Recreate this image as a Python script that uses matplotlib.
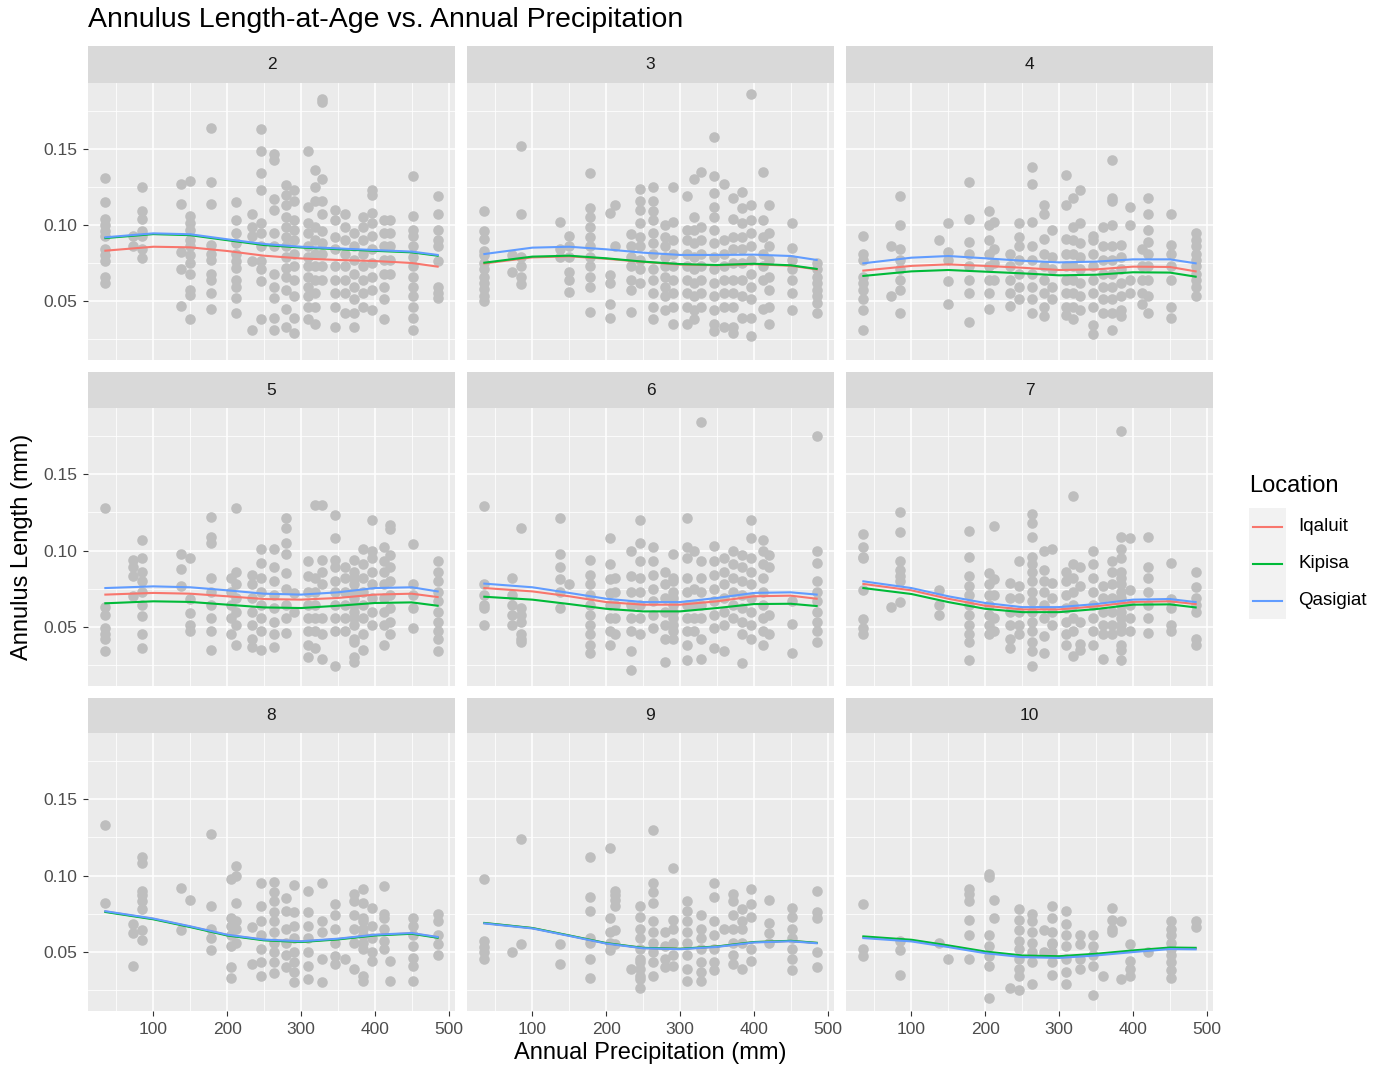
import numpy as np
import matplotlib
matplotlib.use('Agg')
import matplotlib.pyplot as plt
from matplotlib.patches import Rectangle

plt.rcParams['font.family'] = ['Liberation Sans', 'DejaVu Sans']

# precipitation columns (mm) shared by all panels
precip = [34, 72, 84, 137, 150, 178, 205, 212, 234, 246, 263, 279, 291,
          310, 319, 328, 346, 359, 372, 384, 396, 412, 421, 451, 486]

# annulus length (mm x 1000) per precipitation column, one list per age
age2 = [[131, 115, 104, 100, 96, 93, 84, 80, 76, 66, 62], [93, 86], [125, 109, 104, 96, 93, 84, 78],
        [127, 114, 82, 71, 47], [129, 106, 101, 97, 90, 86, 80, 75, 68, 57, 54, 38],
        [164, 128, 114, 87, 81, 77, 68, 64, 55, 45], [],
        [115, 103, 95, 88, 81, 76, 72, 64, 59, 52, 42], [107, 99, 93, 76, 31],
        [163, 149, 134, 123, 101, 95, 86, 76, 71, 63, 38], [147, 143, 117, 110, 95, 86, 68, 59, 52, 39, 31],
        [126, 120, 113, 105, 99, 92, 86, 79, 72, 66, 57, 45, 33], [123, 116, 103, 97, 90, 81, 73, 64, 53, 39, 29],
        [149, 112, 101, 95, 86, 79, 73, 66, 59, 53, 46, 38], [136, 125, 116, 99, 90, 81, 73, 64, 55, 46, 35],
        [183, 181, 130, 116, 107, 96, 88, 81, 73, 64], [110, 103, 92, 84, 73, 64, 55, 46, 33],
        [107, 99, 90, 81, 73, 64, 55, 42], [95, 86, 77, 68, 59, 51, 42, 33], [105, 99, 90, 81, 73, 64, 55, 46],
        [123, 120, 108, 101, 93, 84, 75, 66, 57, 44], [103, 95, 86, 77, 68, 59, 51, 38], [103, 95, 86, 77, 68],
        [132, 106, 97, 93, 86, 79, 73, 66, 59, 53, 46, 39, 31], [119, 107, 97, 90, 86, 76, 59, 55, 52]]
age3 = [[109, 96, 91, 83, 80, 75, 71, 66, 62, 58, 53, 50], [80, 69], [152, 107, 79, 73, 66, 61], [102, 84, 79],
        [93, 86, 79, 69, 64, 56], [134, 111, 105, 99, 92, 86, 79, 73, 66, 59, 43], [108, 67, 62, 48, 39],
        [113, 86], [94, 86, 79, 73, 64, 57, 43], [124, 116, 110, 101, 92, 86, 77, 71, 62],
        [125, 116, 109, 103, 95, 88, 81, 71, 64, 55, 46, 38], [100, 92, 86, 79, 73, 66, 59, 53, 44],
        [125, 102, 90, 81, 73, 64, 55, 46, 35], [119, 97, 90, 81, 73, 64, 55, 46, 35],
        [130, 105, 97, 88, 79, 71, 62, 53, 44, 38], [135, 99, 90, 81, 73, 64, 55, 46],
        [158, 132, 121, 112, 105, 97, 88, 79, 71, 62, 53, 44, 35, 30], [127, 90, 81, 73, 64, 55, 46, 33],
        [118, 104, 92, 84, 75, 64, 55, 46, 33, 29], [122, 111, 101, 92, 84, 75, 64, 53, 39],
        [186, 113, 103, 95, 86, 77, 68, 59, 51, 39, 27], [135, 103, 92, 81, 73, 64, 45],
        [113, 95, 86, 77, 66, 57, 46, 35], [101, 85, 77, 71, 64, 55, 44], [75, 71, 66, 62, 57, 53, 49, 42]]
age4 = [[93, 81, 77, 66, 62, 57, 51, 44, 31], [86, 53], [119, 100, 84, 77, 71, 64, 57, 42], [90],
        [101, 82, 77, 63, 48], [128, 104, 89, 81, 73, 64, 55, 36], [109, 100, 90, 81, 73, 64, 55, 45],
        [102, 84, 75, 64], [81, 73, 64, 55, 47], [101, 92, 86, 77, 68, 59, 51],
        [138, 127, 102, 86, 77, 68, 59, 51, 42], [113, 107, 91, 81, 73, 64, 55, 46, 40], [97, 79, 71, 59, 51],
        [133, 113, 91, 81, 73, 64, 55, 46, 41], [118, 99, 90, 81, 73, 64, 55, 46, 38],
        [123, 101, 88, 79, 71, 62, 53, 44], [93, 90, 81, 73, 64, 55, 46, 34, 28], [99, 86, 77, 68, 59, 51, 42],
        [143, 118, 116, 100, 86, 77, 68, 59, 51, 42, 31], [87, 79, 71, 62, 53, 44, 40], [112, 100, 64, 55],
        [84, 73, 64, 55, 48], [118, 107, 97, 89, 81, 73, 64, 53, 42], [107, 87, 81, 73, 64, 46, 39],
        [95, 90, 86, 81, 77, 73, 68, 64, 59, 53]]
age5 = [[128, 63, 58, 49, 45, 42, 34], [94, 89, 83, 70], [107, 95, 86, 80, 73, 64, 57, 45, 36], [98, 88, 77],
        [95, 68, 59, 51, 47], [122, 109, 105, 82, 73, 64, 56, 47, 35], [82, 73, 64, 56, 45],
        [128, 86, 78, 69, 60, 51, 38], [84, 78, 69, 60, 51, 42, 37], [101, 92, 82, 73, 64, 56, 47, 35],
        [101, 89, 80, 71, 62, 53, 45, 37], [121, 115, 105, 98, 85, 75, 64, 56, 46], [72, 60],
        [93, 83, 73, 64, 56, 47, 38, 30], [130, 82, 73, 64, 56, 47, 36], [130, 94, 86, 78, 56, 45, 29],
        [123, 108, 94, 89, 80, 73, 64, 56, 47, 24], [89, 82, 73, 64, 56, 47],
        [94, 86, 82, 78, 73, 69, 64, 60, 56, 51, 42, 40, 30, 27], [101, 91, 82, 73, 64, 56, 45, 35],
        [120, 100, 95, 86, 78, 69, 60, 51], [102, 93, 86, 78, 69, 60, 51, 38],
        [117, 114, 97, 89, 80, 71, 62, 53, 45], [104, 78, 71, 62, 49], [93, 86, 80, 73, 67, 60, 53, 47, 42, 34]]
age6 = [[129, 78, 71, 64, 62, 51], [82, 71, 64, 58, 51], [115, 62, 58, 53, 45, 42, 40], [121, 98, 89, 81, 73, 62],
        [78], [94, 84, 78, 71, 64, 58, 51, 45, 38, 33], [108, 91, 81, 72, 64, 56, 47, 38], [82, 73, 64, 56, 45],
        [100, 83, 73, 64, 56, 47, 34, 22], [120, 105, 93, 82, 73, 64, 56, 45], [102, 93, 84, 75, 67, 58, 49],
        [86, 78, 69, 60, 51, 42, 27], [98, 82, 80, 73, 69, 64, 60, 56, 51, 47, 42],
        [121, 102, 95, 82, 73, 64, 56, 47, 38, 28], [100, 75, 64, 56, 47], [184, 93, 82, 73, 64, 56, 42, 29],
        [103, 93, 84, 75, 67, 58, 49, 36], [95, 86, 78, 69, 60, 51, 34], [100, 91, 82, 73, 64, 56],
        [97, 89, 80, 71, 62, 53, 45, 26], [120, 108, 95, 86, 78, 69, 60, 51, 42],
        [107, 100, 91, 82, 73, 64, 56, 47, 38], [97, 89, 58, 45], [67, 52, 33],
        [175, 100, 92, 80, 73, 67, 60, 53, 47, 40]]
age7 = [[111, 102, 96, 95, 74, 55, 49, 45], [63], [125, 112, 93, 87, 83, 80, 66], [74, 64, 58], [],
        [113, 96, 83, 77, 71, 64, 58, 51, 45, 40, 28], [85, 78, 71, 64, 58, 51, 45], [116, 81, 71, 56, 47],
        [79, 69, 60, 51, 42, 36], [93, 77, 69, 60, 51, 45],
        [124, 118, 109, 96, 91, 86, 80, 73, 67, 60, 53, 47, 40, 34, 24], [100, 87, 80, 73, 64, 56, 44, 33],
        [101, 79, 69, 60, 51], [86, 80, 71, 62, 53, 45, 38], [136, 91, 82, 73, 64, 56, 47, 31],
        [89, 77, 53, 39, 35], [100, 91, 82, 73, 64, 56, 47, 38], [77, 69, 60, 51, 45, 29],
        [93, 86, 78, 69, 60, 51, 45], [178, 109, 101, 95, 86, 82, 78, 73, 69, 64, 60, 56, 51, 47, 38, 35, 28],
        [108, 74, 64, 56, 47], [], [109, 89, 82, 73, 64, 56, 46], [92, 68, 62, 51, 47],
        [86, 76, 69, 64, 60, 42, 38]]
age8 = [[133, 82], [68, 62, 41], [112, 108, 90, 87, 83, 78, 64, 58], [92, 64], [84], [127, 80, 65, 59, 51],
        [98, 72, 67, 61, 54, 40, 33], [106, 100, 82, 70, 65, 56], [66, 42], [95, 80, 70, 61, 52, 43, 34],
        [96, 89, 83, 76, 70, 63, 56, 50, 43, 36], [85, 77, 65, 56, 48, 40], [94, 76, 67, 59, 50, 43, 37, 30],
        [90, 76, 67, 59, 50, 41, 32], [], [95, 70, 63, 45, 30], [81, 74, 65, 56, 47, 42], [45],
        [88, 83, 74, 65, 56, 39], [91, 82, 72, 70, 65, 61, 56, 52, 34, 31], [79, 67, 59, 50, 44],
        [93, 75, 72, 65, 57, 52], [44, 31], [72, 67, 61, 54, 46, 41, 31], [75, 70, 61, 55, 48]]
age9 = [[98, 57, 53, 50, 45], [50], [124, 55], [55, 42], [], [112, 86, 77, 59, 56, 45, 33],
        [118, 72, 63, 56, 51], [90, 87, 84, 80, 64, 55], [39], [80, 73, 65, 59, 52, 45, 43, 39, 34, 32, 26],
        [130, 95, 89, 82, 70, 63, 56, 50, 43, 34], [63, 54, 45, 40], [105, 71, 65, 56, 48, 41],
        [83, 77, 70, 63, 56, 48, 39, 31], [], [74, 65, 59, 52, 43, 37, 31], [95, 86, 70, 61, 52, 43, 38], [65],
        [88, 83, 74, 65, 56, 48, 42], [78, 70, 65, 56, 39], [91, 81, 73, 52, 44], [], [84, 69, 62, 56],
        [79, 73, 65, 59, 52, 45, 38], [90, 76, 72, 50, 40]]
age10 = [[81, 52, 47], [], [57, 51, 35], [56], [45], [91, 88, 83, 71, 61, 45], [101, 99, 61, 54, 47, 41, 20],
         [84, 72], [26], [78, 71, 64, 57, 52, 45, 39, 34, 25], [75, 70, 63, 56, 50, 43, 29], [64, 50],
         [80, 72, 63, 56, 55, 50, 43, 35], [77, 68, 61, 54, 45, 37, 29], [], [61, 55, 45, 39],
         [61, 54, 48, 41, 22], [34], [79, 71, 65, 63], [70, 32], [55, 44, 39, 34], [], [50],
         [70, 65, 61, 56, 52, 48, 43, 38, 33], [70, 66]]

ages = ['2', '3', '4', '5', '6', '7', '8', '9', '10']
panels = [age2, age3, age4, age5, age6, age7, age8, age9, age10]

# smooth fits by location (mm x 1000) at these precipitation values
knots = [35, 100, 150, 200, 250, 300, 350, 400, 450, 485]
iqaluit_fit = [[83.1, 85.7, 85.3, 82.9, 79.8, 78.0, 77.0, 76.3, 75.0, 72.6],
               [74.7, 78.7, 79.4, 77.8, 75.7, 74.0, 73.5, 74.2, 73.2, 70.8],
               [70.0, 73.1, 74.1, 73.1, 71.9, 70.4, 70.8, 72.6, 72.4, 69.5],
               [71.1, 72.2, 71.7, 70.0, 68.2, 67.8, 68.9, 71.1, 71.7, 69.5],
               [75.4, 73.2, 70.0, 66.2, 64.5, 64.5, 66.7, 70.0, 70.4, 68.4],
               [78.1, 73.9, 68.4, 63.8, 61.4, 61.4, 63.4, 66.3, 66.7, 64.9],
               [76.4, 71.6, 66.5, 61.0, 57.8, 56.7, 58.4, 61.0, 62.1, 59.5],
               [68.8, 65.5, 60.6, 55.6, 52.5, 51.9, 53.4, 56.3, 57.1, 55.8],
               [59.6, 57.4, 53.7, 49.7, 47.1, 46.6, 48.2, 50.4, 52.3, 52.1]]
kipisa_fit = [[91.4, 94.0, 93.3, 90.0, 86.8, 85.2, 84.1, 83.0, 82.0, 79.8],
              [75.2, 79.2, 79.8, 78.1, 75.9, 74.3, 73.7, 74.5, 73.5, 71.1],
              [66.5, 69.5, 70.4, 69.3, 68.2, 66.9, 67.3, 68.9, 68.7, 66.0],
              [65.4, 66.7, 66.3, 64.5, 62.7, 62.3, 63.8, 65.6, 66.0, 63.8],
              [69.7, 67.8, 64.9, 61.8, 60.1, 60.1, 62.3, 64.9, 65.1, 63.6],
              [75.4, 71.5, 66.2, 61.8, 59.6, 59.6, 61.6, 64.5, 64.7, 62.7],
              [76.1, 71.3, 66.2, 60.7, 57.5, 56.4, 58.1, 60.7, 61.8, 59.2],
              [68.9, 65.6, 60.7, 55.7, 52.6, 52.0, 53.5, 56.4, 57.2, 55.9],
              [60.1, 57.9, 54.2, 50.2, 47.6, 47.1, 48.7, 50.9, 52.8, 52.6]]
qasigiat_fit = [[91.9, 94.5, 93.9, 90.6, 87.5, 85.7, 84.6, 83.5, 82.5, 80.3],
                [80.9, 85.1, 85.7, 84.0, 81.8, 80.3, 80.3, 80.5, 79.6, 77.0],
                [74.8, 78.5, 79.6, 78.1, 76.5, 75.4, 75.9, 77.4, 77.4, 74.8],
                [75.4, 76.5, 75.9, 73.9, 71.7, 71.1, 72.6, 75.4, 75.9, 73.2],
                [78.3, 75.9, 72.2, 68.4, 66.2, 66.2, 68.9, 72.2, 72.6, 71.1],
                [79.8, 75.4, 70.0, 65.6, 62.9, 62.9, 64.9, 67.8, 68.2, 66.2],
                [76.6, 71.8, 66.7, 61.2, 58.0, 56.9, 58.6, 61.2, 62.3, 59.7],
                [68.6, 65.3, 60.4, 55.4, 52.3, 51.7, 53.2, 56.1, 56.9, 55.6],
                [59.0, 56.8, 53.1, 49.1, 46.5, 46.0, 47.6, 49.8, 51.8, 51.6]]

locations = ['Iqaluit', 'Kipisa', 'Qasigiat']
loc_colors = ['#F8766D', '#00BA38', '#619CFF']
fits = [iqaluit_fit, kipisa_fit, qasigiat_fit]

W, H = 1386, 1067
fig = plt.figure(figsize=(W / 100, H / 100), dpi=100)
fig.patch.set_facecolor('white')


def px_axes(left, top, right, bottom):
    return fig.add_axes([left / W, 1 - bottom / H, (right - left) / W, (bottom - top) / H])


col_px = [(88, 455), (467, 834), (846, 1213)]
strip_px = [(46, 83), (372, 408), (698, 733)]
panel_px = [(83, 360), (408, 686), (733, 1011)]

for i, (age, cols) in enumerate(zip(ages, panels)):
    r, c = divmod(i, 3)
    left, right = col_px[c]

    st = px_axes(left, strip_px[r][0], right, strip_px[r][1])
    st.set_facecolor('#D9D9D9')
    st.set_xticks([])
    st.set_yticks([])
    for s in st.spines.values():
        s.set_visible(False)
    st.text(0.5, 0.5, age, transform=st.transAxes, ha='center', va='center',
            fontsize=12.5, color='#1A1A1A')

    ax = px_axes(left, panel_px[r][0], right, panel_px[r][1])
    ax.set_facecolor('#EBEBEB')
    for s in ax.spines.values():
        s.set_visible(False)

    xs, ys = [], []
    for x, col in zip(precip, cols):
        xs += [x] * len(col)
        ys += col
    ax.scatter(xs, np.array(ys) / 1000, s=58, color='#BEBEBE', linewidths=0, zorder=2)

    for fit, colr in zip(fits, loc_colors):
        ax.plot(knots, np.array(fit[i]) / 1000, color=colr, lw=1.5, zorder=3)

    ax.set_xlim(11.5, 508.5)
    ax.set_ylim(0.0112, 0.1934)
    ax.set_xticks([100, 200, 300, 400, 500])
    ax.set_xticks([50, 150, 250, 350, 450], minor=True)
    ax.set_yticks([0.05, 0.10, 0.15])
    ax.set_yticks([0.025, 0.075, 0.125, 0.175], minor=True)
    ax.grid(which='major', color='white', lw=1.1, zorder=0)
    ax.grid(which='minor', color='white', lw=0.55, zorder=0)
    ax.set_axisbelow(True)
    ax.tick_params(which='minor', length=0)
    ax.tick_params(which='major', length=3.5, width=0.8, color='#333333',
                   labelsize=12.5, labelcolor='#4D4D4D', pad=4.5)
    ax.set_yticklabels(['0.05', '0.10', '0.15'])
    if c != 0:
        ax.tick_params(axis='y', length=0, labelleft=False)
    if r != 2:
        ax.tick_params(axis='x', length=0, labelbottom=False)

fig.text(88 / W, 1 - 20 / H, 'Annulus Length-at-Age vs. Annual Precipitation',
         ha='left', va='center', fontsize=20.5, color='black')
fig.text(650 / W, 1 - 1053 / H, 'Annual Precipitation (mm)', ha='center', va='center',
         fontsize=17, color='black')
fig.text(22 / W, 1 - 547 / H, 'Annulus Length (mm)', ha='center', va='center',
         rotation=90, fontsize=17, color='black')

# legend
leg = fig.add_axes([0, 0, 1, 1], facecolor='none')
leg.set_xlim(0, W)
leg.set_ylim(H, 0)
leg.axis('off')
leg.text(1249, 486, 'Location', ha='left', va='center', fontsize=17, color='black')
for k, (name, colr) in enumerate(zip(locations, loc_colors)):
    top = 508 + 37 * k
    leg.add_patch(Rectangle((1249, top), 37, 37, facecolor='#F2F2F2', edgecolor='none'))
    leg.plot([1253, 1282], [top + 18.5, top + 18.5], color=colr, lw=1.5)
    leg.text(1298, top + 18.5, name, ha='left', va='center', fontsize=13.5, color='black')

fig.savefig('out.png', dpi=100)
